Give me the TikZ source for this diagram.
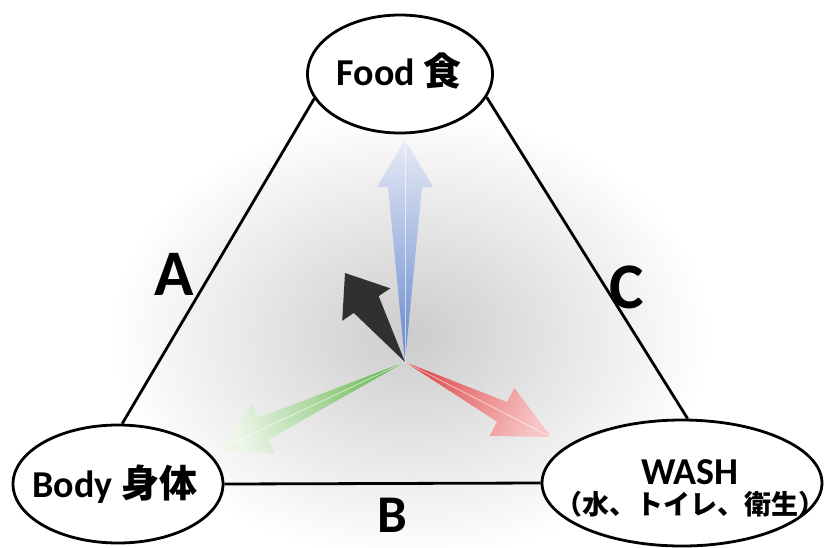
\documentclass[tikz,border=0pt]{standalone}
\usepackage{fontspec}
\setmainfont{Carlito}
\newfontfamily\cjk{Noto Sans CJK JP Bold}
\usetikzlibrary{shapes.geometric,calc}
\definecolor{blueA}{RGB}{100,134,204}
\definecolor{blueB}{RGB}{230,234,246}
\definecolor{greenA}{RGB}{110,188,90}
\definecolor{greenB}{RGB}{238,246,234}
\definecolor{redA}{RGB}{222,78,78}
\definecolor{redB}{RGB}{248,196,196}
\definecolor{darkarrow}{RGB}{48,48,48}
\newcommand\farrow[5]{%
  \coordinate (#1m) at ($(#1)!#2pt!(o)$);
  \path[#5] (o) -- ($(#1m)!#4pt!90:(#1)$) -- ($(#1m)!#3pt!90:(#1)$) -- (#1)
    -- ($(#1m)!#3pt!-90:(#1)$) -- ($(#1m)!#4pt!-90:(#1)$) -- cycle;}
\begin{document}
\begin{tikzpicture}[x=1pt,y=-1pt,
  oval/.style={ellipse, draw=black, line width=2.8pt, fill=white, inner sep=0pt},
  label/.style={font=\fontsize{38}{40}\selectfont\bfseries, inner sep=0pt, align=center},
  edge/.style={line width=2.8pt, draw=black},
  side/.style={font=\fontsize{65}{70}\selectfont\bfseries, inner sep=0pt},
  shine/.style={white, line width=0.8pt, opacity=0.6}]
\useasboundingbox (0,0) rectangle (824,547);
\fill[white] (0,0) rectangle (824,547);
\shade[inner color=black!20, outer color=white] (410,335) ellipse [x radius=300pt, y radius=225pt];
% arrows
\coordinate (o) at (405,362);
\coordinate (tb) at (405,140);
\coordinate (tk) at (345,273);
\coordinate (tg) at (218,450);
\coordinate (tr) at (551,437);
\farrow{tb}{47}{28}{17}{bottom color=blueA, top color=blueB, shading angle=0}
\farrow{tg}{50}{27}{12}{bottom color=greenA, top color=greenB, shading angle=115}
\farrow{tr}{55}{27}{11}{bottom color=redA, top color=redB, shading angle=-117}
\farrow{tk}{38}{29}{15}{fill=darkarrow}
\draw[shine] (o) -- (tb);
\draw[shine] (o) -- (tg);
\draw[shine] (o) -- (tr);
% nodes
\node[oval, minimum width=185pt, minimum height=118pt] (food) at (400,74) {};
\node[label] (foodtext) at (399,71) {Food {\cjk 食}};
\node[oval, minimum width=210pt, minimum height=118pt] (body) at (118,484) {};
\node[label] (bodytext) at (115,484) {Body {\cjk 身体}};
\node[oval, minimum width=280pt, minimum height=126pt] (wash) at (682,483) {};
\node[label] (washtext) at (690,488)
  {WASH\\[-10pt]{\cjk\fontsize{27}{30}\selectfont （水、トイレ、衛生）}};
% edges
\draw[edge] (food.196) -- (body.86);
\draw[edge] (food.345) -- (wash.85);
\draw[edge] (body.0) -- (wash.180);
% side labels
\node[side] (la) at (174,274) {A};
\node[side] (lc) at (627,287) {C};
\node[side, font=\fontsize{53}{60}\selectfont\bfseries] (lb) at (392,515) {B};
\end{tikzpicture}
\end{document}
